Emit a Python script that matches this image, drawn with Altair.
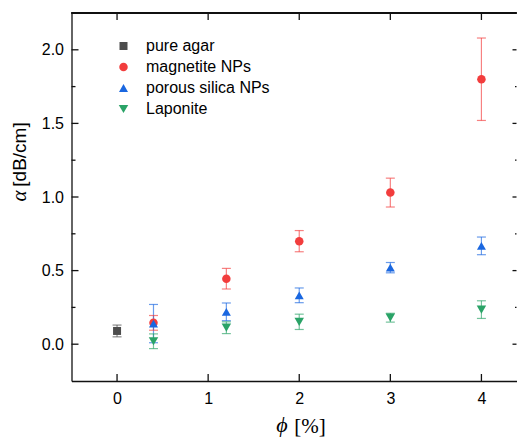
import altair as alt
import pandas as pd

# ---------------- data ----------------
series_names = ["pure agar", "magnetite NPs", "porous silica NPs", "Laponite"]
series_colors = ["#4d4d4d", "#f23d3d", "#1a67e0", "#2aa367"]
series_shapes = ["square", "circle", "triangle-up", "triangle-down"]
series_sizes = [64, 90, 140, 140]

agar_phi = [0.0]
agar_alpha = [0.09]
agar_err = [0.04]

np_phi = [0.4, 1.2, 2.0, 3.0, 4.0]
magnetite_alpha = [0.145, 0.445, 0.700, 1.030, 1.800]
magnetite_err = [0.050, 0.070, 0.072, 0.098, 0.280]
silica_alpha = [0.140, 0.220, 0.332, 0.520, 0.668]
silica_err = [0.130, 0.060, 0.050, 0.035, 0.060]
laponite_alpha = [0.020, 0.112, 0.152, 0.180, 0.235]
laponite_err = [0.050, 0.040, 0.052, 0.030, 0.060]

x_ticks = [0, 1, 2, 3, 4]
y_ticks = [0.0, 0.5, 1.0, 1.5, 2.0]
y_minor = [0.25, 0.75, 1.25, 1.75]

rows = []
for name, xs_, ys_, es_ in [
    ("pure agar", agar_phi, agar_alpha, agar_err),
    ("magnetite NPs", np_phi, magnetite_alpha, magnetite_err),
    ("porous silica NPs", np_phi, silica_alpha, silica_err),
    ("Laponite", np_phi, laponite_alpha, laponite_err),
]:
    for xv, yv, ev in zip(xs_, ys_, es_):
        rows.append({"series": name, "x": xv, "y": yv, "lo": yv - ev, "hi": yv + ev})
df = pd.DataFrame(rows)

caps = pd.concat([
    df[["series", "x", "lo"]].rename(columns={"lo": "y"}),
    df[["series", "x", "hi"]].rename(columns={"hi": "y"}),
])

W, H = 445, 368
xscale = alt.Scale(domain=[-0.5, 4.385], nice=False, zero=False)
yscale = alt.Scale(domain=[-0.25, 2.25], nice=False, zero=False)

xaxis = alt.Axis(values=x_ticks, format="d", ticks=False, grid=False,
                 labelFont="Liberation Sans", labelFontSize=16, labelColor="black",
                 labelPadding=9, domainColor="#111111", domainWidth=1.3,
                 title="[%]", titleFont="Liberation Serif", titleFontSize=21,
                 titleFontWeight="normal", titleColor="black",
                 titleBaseline="alphabetic", titleAlign="center", titleX=238, titleY=51)
yaxis = alt.Axis(values=y_ticks, format=".1f", ticks=False, grid=False,
                 labelFont="Liberation Sans", labelFontSize=16, labelColor="black",
                 labelPadding=8, domainColor="#111111", domainWidth=1.3,
                 title="[dB/cm]", titleFont="Liberation Sans", titleFontSize=19,
                 titleFontWeight="normal", titleColor="black", titleAngle=270,
                 titleBaseline="middle", titleAlign="center", titleX=-52, titleY=141)

legend = alt.Legend(title=None)
color = alt.Color("series:N", scale=alt.Scale(domain=series_names, range=series_colors),
                  legend=legend)
shape = alt.Shape("series:N", scale=alt.Scale(domain=series_names, range=series_shapes),
                  legend=legend)
size = alt.Size("series:N", scale=alt.Scale(domain=series_names, range=series_sizes),
                legend=legend)

X = alt.X("x:Q", scale=xscale, axis=xaxis)
Y = alt.Y("y:Q", scale=yscale, axis=yaxis)

err = alt.Chart(df).mark_rule(strokeWidth=1.2, opacity=0.65).encode(
    x=X, y=alt.Y("lo:Q", scale=yscale, axis=yaxis), y2="hi:Q", color=color)

cap = alt.Chart(caps).mark_tick(orient="horizontal", size=9, thickness=1.2, opacity=0.65).encode(
    x=X, y=Y, color=color)

pts = alt.Chart(df).mark_point(filled=True, opacity=1).encode(
    x=X, y=Y, color=color, shape=shape, size=size)

ymaj = pd.DataFrame({"y": y_ticks})
ymin = pd.DataFrame({"y": y_minor})
xmaj = pd.DataFrame({"x": x_ticks})

tick_style = dict(color="#111111", strokeWidth=1.3)
left_major = alt.Chart(ymaj).mark_rule(**tick_style).encode(y=Y, x=alt.value(0), x2=alt.value(7))
left_minor = alt.Chart(ymin).mark_rule(**tick_style).encode(y=Y, x=alt.value(0), x2=alt.value(4))
right_major = alt.Chart(ymaj).mark_rule(**tick_style).encode(y=Y, x=alt.value(W - 4), x2=alt.value(W))
right_minor = alt.Chart(ymin).mark_rule(**tick_style).encode(y=Y, x=alt.value(W - 1.5), x2=alt.value(W))
bottom_major = alt.Chart(xmaj).mark_rule(**tick_style).encode(x=X, y=alt.value(H - 7), y2=alt.value(H))
top_major = alt.Chart(xmaj).mark_rule(**tick_style).encode(x=X, y=alt.value(0), y2=alt.value(7))
top_line = alt.Chart(xmaj).mark_rule(**tick_style).encode(
    x=alt.value(0), x2=alt.value(W), y=alt.value(0))

alpha_lbl = alt.Chart(pd.DataFrame({"t": ["α"]})).mark_text(
    angle=270, font="Liberation Serif", fontStyle="italic", fontSize=21,
    align="center", baseline="alphabetic", color="black").encode(
    text="t:N", x=alt.value(-46), y=alt.value(183))

phi_lbl = alt.Chart(pd.DataFrame({"t": ["ϕ"]})).mark_text(
    font="Liberation Serif", fontStyle="italic", fontSize=22,
    align="center", baseline="alphabetic", color="black").encode(
    text="t:N", x=alt.value(210.5), y=alt.value(H + 51))

chart = alt.layer(
    err, cap, pts,
    left_major, left_minor, right_major, right_minor, bottom_major, top_major, top_line,
    alpha_lbl, phi_lbl,
).properties(
    width=W, height=H,
    autosize=alt.AutoSizeParams(type="none"),
    padding={"left": 63.5, "top": 5, "right": 0, "bottom": 56},
).configure_view(stroke=None).configure_legend(
    orient="none", legendX=44, legendY=25, padding=0,
    labelFont="Liberation Sans", labelFontSize=16, labelColor="black",
    labelOffset=14.5, rowPadding=5, symbolStrokeWidth=0,
    symbolOpacity=1,
)

chart.save("out.html", embed_options={"renderer": "svg", "actions": False})
